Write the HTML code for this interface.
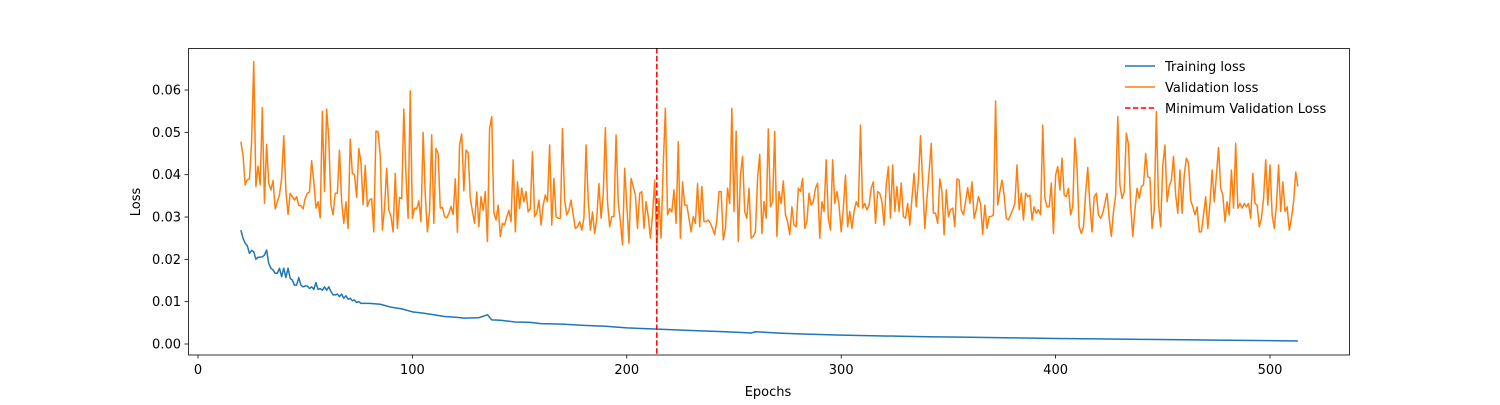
<!DOCTYPE html>
<html><head><meta charset="utf-8"><style>
body{margin:0;background:#fff}
svg text{font-family:"DejaVu Sans","Liberation Sans",sans-serif;font-size:13px;fill:#000}
</style></head><body>
<svg id="chart" width="1500" height="400" xmlns="http://www.w3.org/2000/svg">
<rect width="1500" height="400" fill="#fff"/>
<g id="grid"></g>
<g id="plot"></g>
<rect x="188.5" y="48.5" width="1161" height="306.5" fill="none" stroke="#000" stroke-width="0.8"/>
<g id="axes"></g>
<text x="768" y="396" text-anchor="middle">Epochs</text>
<text transform="translate(140,202) rotate(-90)" text-anchor="middle">Loss</text>
<g>
<line x1="1125" y1="66" x2="1155" y2="66" stroke="#1f77b4" stroke-width="1.5"/>
<text x="1165" y="71">Training loss</text>
<line x1="1125" y1="87" x2="1155" y2="87" stroke="#ff7f0e" stroke-width="1.5"/>
<text x="1165" y="92">Validation loss</text>
<line x1="1125" y1="108" x2="1155" y2="108" stroke="#ff0000" stroke-width="1.5" stroke-dasharray="5.5,2.4"/>
<text x="1165" y="113">Minimum Validation Loss</text>
</g>
</svg>
<script>
const valStart = 20;
const valLoss = [
47.8,44.6,37.6,38.8,39,47.8,66.7,37.2,42,37.6,55.8,33.2,47.2,38,36.4,38.6,31.9,33.6,35.2,39.1,49.2,36,30.6,35.6,34.8,34,34.8,32.7,32.7,31.9,34.4,35.6,35.9,43.3,38.4,32.1,33.6,29.8,55,36,55.5,48.6,32.9,30.5,35.6,35.6,45.8,33.6,28.5,33.6,27.3,48.4,40.3,40,34.6,46.2,43,32.9,42.2,32.5,34,34.3,26.5,50.3,50.1,44.6,26.9,32.1,41.5,31.7,30.1,26.5,40.3,27.3,34.6,34.3,55.5,39.9,29.7,59.8,29.7,32.1,31.9,33.8,28.9,50,35.2,26.5,31.3,49.4,28.5,46.2,45,32.1,32.3,30.1,29.8,30.8,32.5,30.6,39,26.4,47,49.6,36.2,45.8,45.2,34.4,31.3,28.5,35.9,27.7,
34.8,31.6,36.0,24.2,50.9,53.7,31.0,29.3,32.8,25.4,28.5,28.1,30.0,31.6,28.9,43.5,26.5,38.3,32.0,36.8,33.6,36.0,31.2,32.0,45.4,30.1,30.9,34.0,28.1,32.8,35.2,33.6,47.0,28.1,39.1,30.1,29.7,29.7,50.9,34.0,30.5,31.6,34.0,30.5,27.3,27.7,28.9,26.9,29.7,47.0,34.0,26.9,31.2,26.1,29.7,37.9,29.7,35.2,51.1,33.6,27.7,30.1,30.1,49.4,33.6,28.9,23.4,41.5,32.8,23.8,39.1,37.2,35.2,27.3,35.6,36.0,27.3,33.6,30.1,25.0,30.5,38.7,23.0,
34.4,25.0,42.3,55.7,30.5,32.0,31.2,36.4,28.5,47.8,25.0,38.3,32.8,32.8,29.7,26.5,30.1,28.5,37.9,27.7,37.2,28.9,28.9,29.3,28.5,27.3,25.8,29.3,36.0,
36.0,24.6,27.3,36.8,33.2,55.7,31.3,50.3,24.2,39.9,44.3,31.3,29.7,36.8,25.0,25.4,26.5,39.1,44.8,26.1,33.6,29.7,50.8,32.4,33.6,50.2,25.4,36.0,33.2,38.5,30.5,28.9,25.8,32.4,28.1,27.7,36.8,36.0,39.1,27.3,28.9,35.6,32.8,33.6,36.8,38.0,25.0,33.6,31.3,43.5,29.7,26.9,43.5,33.2,36.0,32.8,26.5,32.1,39.9,27.7,31.3,27.3,31.3,33.6,32.4,51.7,32.1,33.2,31.7,32.8,36.8,38.3,28.5,36.0,35.6,33.6,28.1,37.6,41.9,29.7,42.3,31.3,37.2,31.3,38.0,30.1,29.7,33.2,28.1,34.4,40.3,32.4,38.7,49.2,38.3,27.3,34.4,40.7,47.4,30.9,30.9,28.5,39.0,36.0,25.8,36.4,30.1,31.7,32.1,27.7,39.0,
38.7,31.7,30.5,33.6,36.9,33.2,38.3,29.7,31.7,34.8,33.2,25.9,32.8,27.3,30.1,30.1,30.5,57.4,32.8,36.0,38.7,35.2,29.7,29.3,30.5,31.7,33.2,42.3,31.7,35.6,29.3,35.6,34.8,35.2,29.3,32.4,30.9,31.7,30.5,51.7,34.4,32.4,32.4,38.0,26.1,39.9,41.9,36.4,43.9,35.2,34.8,36.8,30.5,32.4,48.6,41.5,27.7,26.1,27.7,35.6,41.7,32.8,26.5,34.8,35.6,30.5,29.7,30.9,33.2,35.6,29.7,25.4,31.3,35.2,53.7,37.6,34.4,36.0,49.8,47.0,32.8,25.4,31.7,36.8,34.4,37.2,37.6,45.0,39.5,39.3,27.3,31.7,54.9,33.2,27.7,42.3,47.0,33.6,37.2,38.7,44.3,35.2,30.9,41.1,30.9,39.9,43.9,42.7,34.0,32.4,30.5,32.4,26.5,
26.5,30.5,34.8,27.3,33.2,41.1,33.6,39.9,46.4,36.8,35.2,28.9,33.6,30.5,41.1,32.1,47.4,32.1,33.2,32.1,33.2,32.4,33.2,29.7,40.3,33.2,32.8,27.7,29.7,34.4,43.5,32.8,42.3,30.5,27.3,32.8,42.3,31.3,38.3,31.3,32.4,26.9,29.7,33.6,40.6,37.2
];
const trainEpochs = [20,21,22,23,24,25,26,27,28,29,30,31,32,33,34,35,36,37,38,39,40,41,42,43,44,45,46,47,48,49,50,51,52,53,54,55,56,57,58,59,60,61,62,63,64,65,66,67,68,69,70,71,72,73,74,75,76,80,85,90,95,100,105,110,115,121,124,131,135,137,141,148,155,160,170,180,190,200,210,220,230,240,250,258,260,270,280,300,320,340,360,380,400,420,440,460,480,500,513];
const trainLoss = [26.9,25.0,23.8,23.2,21.4,22.1,21.8,20.0,20.5,20.5,20.6,21.0,22.2,19.0,17.9,17.5,16.7,16.7,17.9,15.9,17.9,15.7,17.9,15.5,15.1,13.9,13.9,15.7,13.9,13.5,13.7,13.7,13.1,13.5,12.9,14.5,12.9,13.1,12.7,13.5,12.7,13.5,12.4,11.6,11.6,11.8,11.2,11.8,10.8,11.4,10.6,10.8,10.2,10.4,9.8,10.0,9.6,9.6,9.4,8.7,8.3,7.6,7.3,6.9,6.5,6.3,6.1,6.2,6.9,5.7,5.6,5.2,5.1,4.8,4.7,4.4,4.2,3.8,3.6,3.4,3.2,3.0,2.8,2.6,2.9,2.6,2.4,2.1,1.9,1.7,1.6,1.45,1.3,1.2,1.1,1.0,0.9,0.8,0.7];
const xTicks = [0,100,200,300,400,500];
const yTicks = [0,0.01,0.02,0.03,0.04,0.05,0.06];
const minEpoch = 214;

const NS = "http://www.w3.org/2000/svg";
const X = e => 198 + 2.144 * e;
const Y = v => 344 - 4233 * v;
const plot = document.getElementById('plot');
const axes = document.getElementById('axes');

function mk(tag, attrs, parent){ const el=document.createElementNS(NS,tag); for(const k in attrs) el.setAttribute(k,attrs[k]); parent.appendChild(el); return el; }

let d = trainEpochs.map((e,i)=>(i?'L':'M')+X(e).toFixed(2)+','+Y(trainLoss[i]/1000).toFixed(2)).join('');
const tl = mk('path',{d:d,fill:'none',stroke:'#1f77b4','stroke-width':1.5,'stroke-linejoin':'round'},plot);



d = valLoss.map((v,i)=>(i?'L':'M')+X(valStart+i).toFixed(2)+','+Y(v/1000).toFixed(2)).join('');
const vl = mk('path',{d:d,fill:'none',stroke:'#ff7f0e','stroke-width':1.5,'stroke-linejoin':'round'},plot);



const ml = mk('line',{x1:X(minEpoch),x2:X(minEpoch),y1:48,y2:355,stroke:'#ff0000','stroke-width':1.5,'stroke-dasharray':'5.5,2.4'},plot);



xTicks.forEach(t=>{
  const ln = mk('line',{x1:X(t),x2:X(t),y1:355,y2:358.5,stroke:'#000','stroke-width':0.8},axes);
  
  
  const tx = mk('text',{x:X(t),y:374,'text-anchor':'middle'},axes);
  tx.textContent = t;
  
  
});
yTicks.forEach(t=>{
  const ln = mk('line',{x1:184.5,x2:188,y1:Y(t),y2:Y(t),stroke:'#000','stroke-width':0.8},axes);
  
  
  const tx = mk('text',{x:181,y:Y(t)+4.5,'text-anchor':'end'},axes);
  tx.textContent = t.toFixed(2);
  
  
});
</script>
</body></html>
